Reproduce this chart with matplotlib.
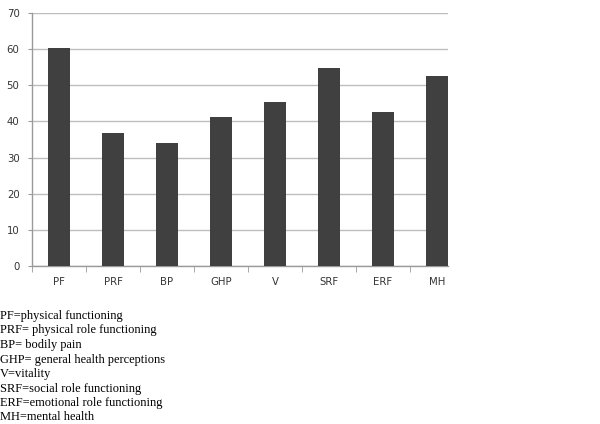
import matplotlib
matplotlib.use("Agg")
import matplotlib.pyplot as plt

categories = ["PF", "PRF", "BP", "GHP", "V", "SRF", "ERF", "MH"]
values = [60.3, 36.8, 34.0, 41.3, 45.5, 54.9, 42.5, 52.6]
yticks = [0, 10, 20, 30, 40, 50, 60, 70]
legend_lines = [
    "PF=physical functioning",
    "PRF= physical role functioning",
    "BP= bodily pain",
    "GHP= general health perceptions",
    "V=vitality",
    "SRF=social role functioning",
    "ERF=emotional role functioning",
    "MH=mental health",
]

W, H = 600, 424
fig = plt.figure(figsize=(W / 100, H / 100), dpi=100)
ax = fig.add_axes([32 / W, (H - 266) / H, (448 - 32) / W, (266 - 13) / H])

x = list(range(len(categories)))
ax.bar(x, values, width=0.4, color="#404040", zorder=3)
ax.set_yticks(yticks)
ax.set_yticklabels([str(t) for t in yticks])
ax.set_xticks(x)
ax.set_xticklabels(categories)
ax.set_xticks([i + 0.5 for i in range(-1, len(categories) - 1)], minor=True)
ax.set_xlim(-0.5, -0.5 + 416 / 54)
ax.set_ylim(0, 70)

ax.grid(axis="y", color="#bdbdbd", linewidth=1.0, zorder=0)
for s in ["top", "right"]:
    ax.spines[s].set_visible(False)
for s in ["left", "bottom"]:
    ax.spines[s].set_color("#9a9a9a")
    ax.spines[s].set_linewidth(1.0)

ax.tick_params(axis="y", length=3, color="#9a9a9a", labelsize=7.3, labelcolor="#333333", pad=6)
ax.tick_params(axis="x", which="major", length=0, labelsize=7.3, labelcolor="#333333", pad=8)
ax.tick_params(axis="x", which="minor", length=4, color="#9a9a9a")
for lab in ax.get_xticklabels() + ax.get_yticklabels():
    lab.set_family("DejaVu Sans")

ys = [315.7, 330.3, 345, 360, 374, 388.7, 402.7, 416.7]
for line, yp in zip(legend_lines, ys):
    fig.text(0 / W, 1 - yp / H, line, ha="left", va="center",
             family="Liberation Serif", fontsize=8.9, color="black")

fig.savefig("out.png", dpi=100)
